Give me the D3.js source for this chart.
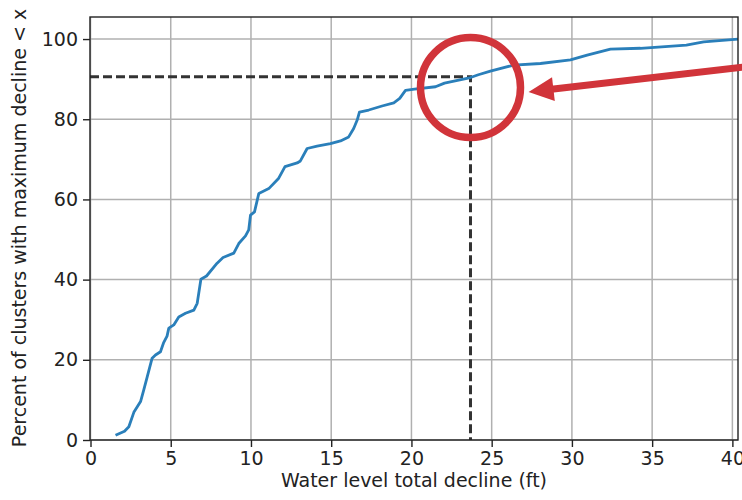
<!DOCTYPE html>
<html>
<head>
<meta charset="utf-8">
<script src="https://cdn.jsdelivr.net/npm/d3@7"></script>
<style>
  body { margin: 0; background: #fff; }
  text { font-family: "DejaVu Sans", sans-serif; fill: #222; }
</style>
</head>
<body>
<script>
// water level total decline (ft) vs percent of clusters
var decline = [1.56, 2.12, 2.39, 2.70, 3.12, 3.32, 3.53, 3.84, 4.05, 4.36, 4.55, 4.77, 4.88, 5.19, 5.50, 5.92,
  6.44, 6.65, 6.88, 7.23, 7.89, 8.26, 8.93, 9.24, 9.66, 9.86, 9.97, 10.22, 10.49, 11.11, 11.73, 12.12,
  12.88, 13.08, 13.50, 14.12, 14.95, 15.58, 16.09, 16.40, 16.62, 16.76, 17.34, 18.17, 18.90, 19.27,
  19.63, 20.19, 21.50, 22.06, 23.68, 24.17, 24.92, 26.37, 28.04, 29.91, 30.95, 32.40, 34.27, 37.13,
  38.21, 40.35];
var percent = [1.2, 2.2, 3.3, 6.9, 9.6, 12.5, 15.7, 20.4, 21.2, 22.0, 24.2, 25.9, 27.9, 28.7, 30.7, 31.6,
  32.4, 34.1, 40.1, 40.9, 44.1, 45.5, 46.6, 49.0, 50.9, 52.4, 56.1, 56.9, 61.5, 62.7, 65.3, 68.2,
  69.1, 69.6, 72.7, 73.3, 73.9, 74.6, 75.6, 77.7, 79.8, 81.8, 82.3, 83.3, 84.1, 85.2,
  87.2, 87.5, 88.1, 89.0, 90.4, 91.1, 92.0, 93.5, 93.9, 94.8, 96.0, 97.5, 97.7, 98.5,
  99.3, 100.0];

var xTicks = [0, 5, 10, 15, 20, 25, 30, 35, 40];
var yTicks = [0, 20, 40, 60, 80, 100];

// 90th percentile marker and annotation (data units)
var marker = [23.68, 90.6];
var circleAt = [23.68, 87.9];
var arrowFrom = [40.65, 93.0];
var arrowTo = [27.3, 86.8];

var width = 742,
    height = 500;

var x = d3.scaleLinear().domain([0, 40.35]).range([90.5, 738]);
var y = d3.scaleLinear().domain([0, 105.5]).range([440, 17]);

var svg = d3.select("body").append("svg")
    .attr("width", width)
    .attr("height", height);

// grid
svg.append("g").selectAll("line")
  .data(xTicks)
  .enter().append("line")
  .attr("x1", function(d){ return x(d) })
  .attr("x2", function(d){ return x(d) })
  .attr("y1", y.range()[0])
  .attr("y2", y.range()[1])
  .attr("stroke", "#b0b0b0")
  .attr("stroke-width", 1.5)

svg.append("g").selectAll("line")
  .data(yTicks)
  .enter().append("line")
  .attr("x1", 90)
  .attr("x2", 738)
  .attr("y1", function(d){ return y(d) })
  .attr("y2", function(d){ return y(d) })
  .attr("stroke", "#b0b0b0")
  .attr("stroke-width", 1.5)

// dashed marker lines
svg.append("path")
  .attr("d", "M90," + y(marker[1]) + "H" + x(marker[0]) + "V" + y(0))
  .attr("fill", "none")
  .attr("stroke", "#333")
  .attr("stroke-width", 3)
  .attr("stroke-dasharray", "9,4")

// cumulative curve
var line = d3.line()
  .x(function(d, i){ return x(decline[i]) })
  .y(function(d){ return y(d) });

svg.append("path")
  .datum(percent)
  .attr("d", line)
  .attr("fill", "none")
  .attr("stroke", "#2a7fba")
  .attr("stroke-width", 2.8)
  .attr("stroke-linejoin", "round")

// axes
var xAxis = d3.axisBottom(x).tickValues(xTicks).tickSize(7).tickPadding(5);
var yAxis = d3.axisLeft(y).tickValues(yTicks).tickSize(7).tickPadding(5);

svg.append("g")
  .attr("transform", "translate(0," + y(0) + ")")
  .call(xAxis)
  .call(function(g){ g.select(".domain").remove() })

svg.append("g")
  .attr("transform", "translate(90,0)")
  .call(yAxis)
  .call(function(g){ g.select(".domain").remove() })

svg.selectAll(".tick line").attr("stroke", "#222").attr("stroke-width", 1.4)
svg.selectAll(".tick text")
  .style("font-size", "19px")
  .attr("fill", "#222")

// frame
svg.append("rect")
  .attr("x", 90)
  .attr("y", 17)
  .attr("width", 648)
  .attr("height", 423)
  .attr("fill", "none")
  .attr("stroke", "#222")
  .attr("stroke-width", 1.4)

// labels
svg.append("text")
  .attr("x", 414)
  .attr("y", 487)
  .attr("text-anchor", "middle")
  .style("font-size", "19px")
  .text("Water level total decline (ft)")

svg.append("text")
  .attr("transform", "translate(26,228) rotate(-90)")
  .attr("text-anchor", "middle")
  .style("font-size", "19px")
  .text("Percent of clusters with maximum decline < x")

// red annotation
var red = "#d1343a";
svg.append("circle")
  .attr("cx", x(circleAt[0]))
  .attr("cy", y(circleAt[1]))
  .attr("r", 50)
  .attr("fill", "none")
  .attr("stroke", red)
  .attr("stroke-width", 7.5)

var x0 = x(arrowFrom[0]), y0 = y(arrowFrom[1]),
    x1 = x(arrowTo[0]), y1 = y(arrowTo[1]);
var len = Math.hypot(x1 - x0, y1 - y0),
    ux = (x1 - x0) / len, uy = (y1 - y0) / len;
var head = 25, half = 12;
var bx = x1 - ux * head, by = y1 - uy * head;

svg.append("line")
  .attr("x1", x0).attr("y1", y0)
  .attr("x2", bx + ux * 2).attr("y2", by + uy * 2)
  .attr("stroke", red)
  .attr("stroke-width", 7)

svg.append("path")
  .attr("d", "M" + x1 + "," + y1 +
    "L" + (bx - uy * half) + "," + (by + ux * half) +
    "L" + (bx + uy * half) + "," + (by - ux * half) + "Z")
  .attr("fill", red)
</script>
</body>
</html>
